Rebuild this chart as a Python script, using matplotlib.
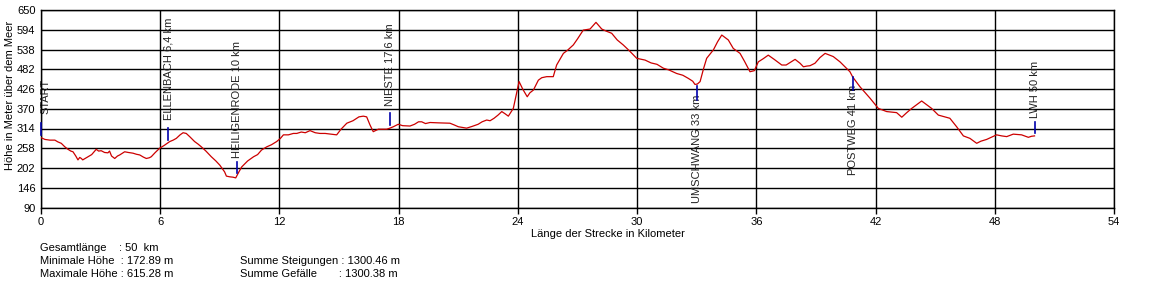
import matplotlib
matplotlib.use("Agg")
import matplotlib.pyplot as plt

# === DATA ===
km = [0.0, 0.2, 0.45, 0.7, 0.85, 1.02, 1.2, 1.36, 1.5, 1.61, 1.75, 1.86, 1.95, 2.03, 2.1,
      2.25, 2.37, 2.55, 2.78, 2.9, 3.03, 3.2, 3.37, 3.45, 3.55, 3.71, 3.85, 3.96, 4.1, 4.21,
      4.4, 4.63, 4.8, 4.97, 5.15, 5.3, 5.45, 5.55, 5.75, 5.97, 6.2, 6.48, 6.65, 6.81, 7.0,
      7.15, 7.31, 7.5, 7.73, 7.9, 8.07, 8.3, 8.57, 8.8, 9.0, 9.15, 9.24, 9.33, 9.5, 9.66,
      9.8, 9.95, 10.1, 10.4, 10.7, 10.9, 11.1, 11.36, 11.6, 11.86, 12.05, 12.2, 12.45, 12.7,
      12.87, 13.1, 13.3, 13.54, 13.8, 14.04, 14.3, 14.6, 14.88, 15.1, 15.39, 15.7, 16.0,
      16.22, 16.39, 16.55, 16.72, 16.98, 17.2, 17.4, 17.56, 17.73, 17.98, 18.2, 18.57, 18.8,
      19.0, 19.16, 19.35, 19.58, 20.0, 20.58, 20.8, 21.0, 21.42, 21.7, 22.0, 22.2, 22.43,
      22.6, 22.8, 23.0, 23.19, 23.35, 23.52, 23.77, 24.06, 24.25, 24.47, 24.6, 24.78, 25.03,
      25.2, 25.45, 25.78, 25.95, 26.29, 26.5, 26.79, 27.0, 27.29, 27.63, 27.93, 28.22, 28.45,
      28.72, 29.0, 29.3, 29.6, 29.98, 30.4, 30.7, 31.0, 31.32, 31.6, 31.99, 32.3, 32.58,
      32.8, 32.91, 33.03, 33.17, 33.35, 33.5, 33.84, 34.05, 34.26, 34.59, 34.84, 35.18, 35.4,
      35.68, 35.9, 36.1, 36.35, 36.6, 36.9, 37.28, 37.5, 37.95, 38.2, 38.37, 38.54, 38.7,
      38.95, 39.2, 39.46, 39.87, 40.21, 40.5, 40.71, 40.85, 41.22, 41.72, 42.14, 42.56,
      43.06, 43.32, 43.55, 43.82, 44.32, 44.82, 45.16, 45.74, 46.08, 46.42, 46.75, 47.09,
      47.3, 47.59, 48.09, 48.35, 48.6, 48.93, 49.35, 49.69, 49.85, 50.0]
hoehe = [288, 283, 281, 281, 276, 272, 262, 255, 250, 248, 236, 225, 232, 229, 225,
         230, 234, 240, 255, 250, 251, 246, 245, 250, 236, 229, 236, 239, 244, 248,
         246, 244, 241, 239, 233, 229, 231, 234, 246, 258, 266, 277, 281, 286, 296,
         302, 300, 290, 277, 270, 262, 250, 234, 222, 210, 198, 191, 179, 177, 176,
         174, 190, 205, 222, 234, 240, 253, 262, 268, 277, 286, 296, 296, 300,
         300, 304, 302, 308, 302, 300, 300, 298, 296, 312, 329, 336, 347,
         349, 347, 325, 305, 312, 312, 312, 315, 319, 326, 322, 321, 326,
         333, 333, 328, 331, 330, 329, 324, 319, 315, 320, 326, 333, 338,
         336, 343, 352, 362, 356, 349, 371, 447, 425, 404, 415, 423, 451,
         458, 461, 461, 494, 527, 536, 551, 568, 593, 596, 615, 596, 590,
         584, 565, 551, 535, 513, 508, 500, 496, 485, 480, 470, 465, 456,
         448, 439, 440, 447, 485, 513, 537, 560, 579, 565, 541, 527, 505,
         475, 478, 503, 512, 522, 510, 494, 494, 510, 499, 489, 491, 492,
         499, 515, 527, 518, 503, 487, 475, 460, 432, 400, 371, 362,
         359, 346, 358, 371, 392, 371, 352, 343, 319, 293, 286, 272,
         278, 283, 296, 293, 291, 298, 296, 289, 292, 293]

orte = ["START", "ELLENBACH 6,4 km", "HEILIGENRODE 10 km", "NIESTE 17,6 km",
        "UMSCHWANG 33 km", "POSTWEG 41 km", "LWH 50 km"]
orte_km = [0.0, 6.41, 9.87, 17.56, 33.03, 40.85, 50.0]
# label x (START sits just right of the axis)
orte_text_km = [0.22, 6.41, 9.87, 17.56, 33.03, 40.85, 50.0]
# marker line (from, to) and where the label starts, in metres
orte_linie = [(295, 330), (281, 315), (188, 219), (324, 358), (434, 395), (460, 423), (301, 332)]
orte_text = [355, 338, 230, 378, 409, 437, 344]
orte_oben = [True, True, True, True, False, False, True]

yticks = [90, 146, 202, 258, 314, 370, 426, 482, 538, 594, 650]
xticks = [0, 6, 12, 18, 24, 30, 36, 42, 48, 54]

# === PLOT ===
plt.rcParams["font.family"] = ["Liberation Sans", "DejaVu Sans"]
W, H = 1163, 298
fig = plt.figure(figsize=(W / 100, H / 100), dpi=100)
ax = fig.add_axes([41 / W, 1 - 207.5 / H, (1114 - 41) / W, (207.5 - 10) / H])

ax.plot(km, hoehe, color="#cc0000", lw=0.9, zorder=3)

for name, x, xt, (y0, y1), yt, oben in zip(orte, orte_km, orte_text_km, orte_linie,
                                           orte_text, orte_oben):
    ax.plot([x, x], [y0, y1], color="#0000aa", lw=1.2, zorder=4, clip_on=False)
    ax.text(xt, yt, name, rotation=90, ha="center", va="bottom" if oben else "top",
            fontsize=8, color="#222222", zorder=2)

ax.set_xlim(0, 54)
ax.set_ylim(90, 650)
ax.set_xticks(xticks)
ax.set_yticks(yticks)
ax.grid(color="black", lw=1)
ax.set_axisbelow(True)
for s in ax.spines.values():
    s.set_color("black")
    s.set_linewidth(1)
ax.tick_params(axis="x", length=4, width=1, pad=3, labelsize=8)
ax.tick_params(axis="y", length=0, pad=4, labelsize=8)

fig.text(10 / W, 1 - 95 / H, "Höhe in Meter über dem Meer", rotation=90,
         ha="center", va="center", fontsize=8)
fig.text(608 / W, 1 - 234 / H, "Länge der Strecke in Kilometer",
         ha="center", va="center", fontsize=8)

stats = [(40, 248, "Gesamtlänge    : 50  km"),
         (40, 261, "Minimale Höhe  : 172.89 m"),
         (40, 274, "Maximale Höhe : 615.28 m"),
         (240, 261, "Summe Steigungen : 1300.46 m"),
         (240, 274, "Summe Gefälle       : 1300.38 m")]
for x, y, t in stats:
    fig.text(x / W, 1 - y / H, t, ha="left", va="center", fontsize=8)

plt.savefig("out.png", dpi=100)
